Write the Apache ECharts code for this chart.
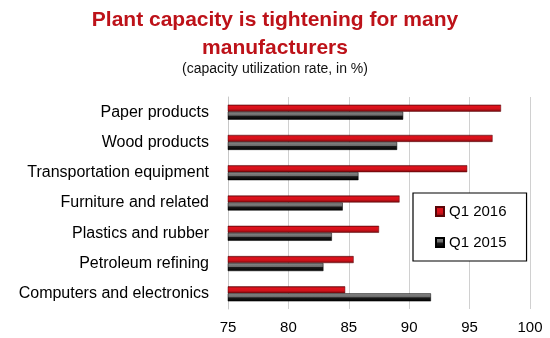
<!DOCTYPE html>
<html><head><meta charset="utf-8">
<script src="https://cdn.jsdelivr.net/npm/echarts@6/dist/echarts.min.js"></script>
<style>html,body{margin:0;padding:0;background:#fff}#c{width:550px;height:338px}</style>
</head><body><div id="c"></div>
<script>
var categories = ['Paper products','Wood products','Transportation equipment','Furniture and related','Plastics and rubber','Petroleum refining','Computers and electronics'];
var q12016 = [97.6, 96.9, 94.8, 89.2, 87.5, 85.4, 84.7];
var q12015 = [89.5, 89.0, 85.8, 84.5, 83.6, 82.9, 91.8];
var xTicks = [75, 80, 85, 90, 95, 100];

var chart = echarts.init(document.getElementById('c'), null, {renderer:'canvas'});
var redGrad = new echarts.graphic.LinearGradient(0,0,0,1,[
  {offset:0,color:'#7a0a0e'},{offset:0.25,color:'#e0121c'},{offset:0.6,color:'#d3111a'},{offset:1,color:'#6e0a0c'}]);
var grayGrad = new echarts.graphic.LinearGradient(0,0,0,1,[
  {offset:0,color:'#8a8a8a'},{offset:0.45,color:'#6a6a6a'},{offset:0.55,color:'#1a1a1a'},{offset:1,color:'#000'}]);
chart.setOption({
  animation:false,
  title:{
    text:'Plant capacity is tightening for many\nmanufacturers',
    subtext:'(capacity utilization rate, in %)',
    left:'center', top:1, itemGap:0,
    textStyle:{fontFamily:'Liberation Sans', fontWeight:'bold', fontSize:21, color:'#bd1219', lineHeight:28},
    subtextStyle:{fontFamily:'Liberation Sans', fontSize:14, color:'#111'}
  },
  legend:{
    data:['Q1 2016','Q1 2015'], orient:'vertical', left:413, top:193,
    padding:[11,20,11,22], itemGap:16, itemWidth:8, itemHeight:9, icon:'rect',
    borderColor:'#000', borderWidth:1.2, backgroundColor:'#fff',
    textStyle:{fontFamily:'Liberation Sans', fontSize:15, color:'#000'}
  },
  grid:{left:228, right:20, top:97, bottom:29},
  xAxis:{type:'value', min:75, max:100, interval:5,
    axisLine:{show:false}, axisTick:{show:false},
    splitLine:{lineStyle:{color:'#d0d0d0', width:1}},
    axisLabel:{fontFamily:'Liberation Sans', fontSize:15, color:'#000', margin:11,
      formatter:function(v){return xTicks.indexOf(v)>=0?String(v):'';}}
  },
  yAxis:{type:'category', data:categories, inverse:true,
    axisLine:{show:true, lineStyle:{color:'#c8c8c8'}}, axisTick:{show:false},
    axisLabel:{fontFamily:'Liberation Sans', fontSize:16, color:'#000', margin:19}
  },
  series:[
    {name:'Q1 2016', type:'bar', data:q12016, barWidth:7, barGap:'0%',
      itemStyle:{color:redGrad, borderColor:'#5a0508', borderWidth:0.5}},
    {name:'Q1 2015', type:'bar', data:q12015, barWidth:8, barGap:'0%',
      itemStyle:{color:grayGrad, borderColor:'#000', borderWidth:0.5}}
  ]
});
</script></body></html>
